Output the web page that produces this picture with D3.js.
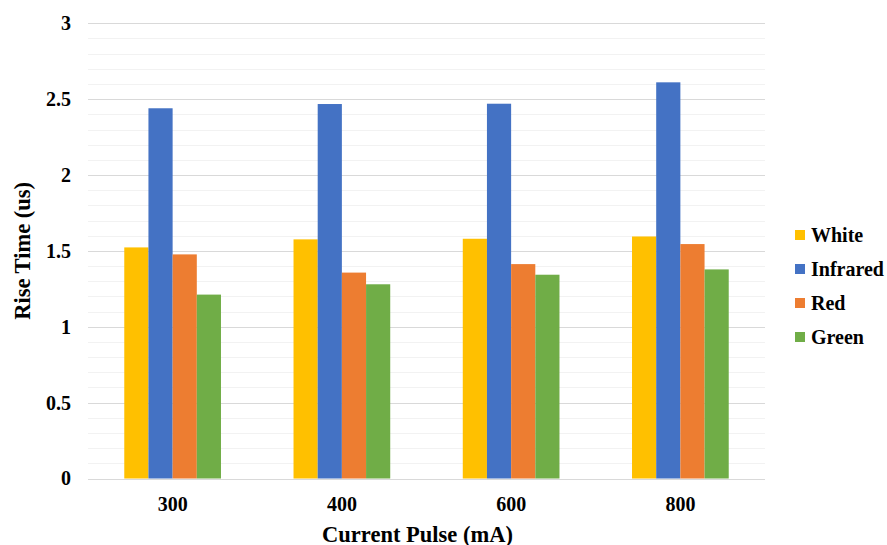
<!DOCTYPE html>
<html><head><meta charset="utf-8">
<script src="https://cdn.jsdelivr.net/npm/d3@7"></script>
<style>body{margin:0;background:#fff}svg{display:block}text{font-family:"Liberation Serif","Times New Roman","DejaVu Serif",serif;font-weight:bold;fill:#000}</style>
</head><body><svg id="c" width="887" height="545"></svg>
<script>
const categories = ["300","400","600","800"];
const seriesNames = ["White","Infrared","Red","Green"];
const seriesColors = ["#FFC000","#4472C4","#ED7D31","#70AD47"];
const white = [1.523,1.576,1.58,1.595];
const infrared = [2.44,2.468,2.47,2.611];
const red = [1.477,1.357,1.413,1.545];
const green = [1.212,1.28,1.343,1.378];
const yTicks = [0,0.5,1,1.5,2,2.5,3];
const values = [white,infrared,red,green];

const svg = d3.select("#c");
const pLeft=88, pRight=765, pTop=23.3, pBottom=478.5;
const y = d3.scaleLinear().domain([0,3]).range([pBottom,pTop]);
const x = d3.scaleBand().domain(categories).range([pLeft,pRight]);
const bw = x.bandwidth()/7;
const xs = d3.scaleBand().domain(seriesNames).range([0,bw*4]);

// minor grid
svg.append("g").selectAll("line").data(d3.range(0,31).map(i=>i/10).filter(v=>Math.round(v*10)%5!==0))
 .join("line").attr("x1",pLeft).attr("x2",pRight).attr("y1",d=>Math.round(y(d))+0.5).attr("y2",d=>Math.round(y(d))+0.5)
 .attr("stroke","#f2f2f2").attr("stroke-width",1);
svg.append("g").selectAll("line").data(yTicks)
 .join("line").attr("x1",pLeft).attr("x2",pRight).attr("y1",d=>Math.round(y(d))+0.5).attr("y2",d=>Math.round(y(d))+0.5)
 .attr("stroke","#d9d9d9").attr("stroke-width",1);

// bars
seriesNames.forEach((s,si)=>{
  svg.append("g").selectAll("rect").data(categories).join("rect")
   .attr("x",(c)=>x(c)+x.bandwidth()/2-bw*2+xs(s))
   .attr("width",bw)
   .attr("y",(c,i)=>y(values[si][i]))
   .attr("height",(c,i)=>y(0)-y(values[si][i]))
   .attr("fill",seriesColors[si]);
});

// y axis labels
const yAxis = d3.axisLeft(y).tickValues(yTicks).tickSize(0).tickPadding(0).tickFormat(d3.format("~g"));
const ga = svg.append("g").attr("transform",`translate(71,0)`).call(yAxis);
ga.attr("font-family",null).attr("font-size",null);
ga.select(".domain").remove();
ga.selectAll("text").attr("font-size",20).attr("fill","#000");

// x axis labels
const xAxis = d3.axisBottom(x).tickSize(0).tickPadding(0);
const gx = svg.append("g").attr("transform",`translate(0,0)`).call(xAxis);
gx.attr("font-family",null).attr("font-size",null);
gx.select(".domain").remove();
gx.selectAll("text").attr("font-size",20).attr("y",510.5).attr("dy",null).attr("fill","#000");

// titles
svg.append("text").attr("x",(pLeft+pRight)/2-9).attr("y",541.5).attr("text-anchor","middle").attr("font-size",22.5).text("Current Pulse (mA)");
svg.append("text").attr("transform",`translate(30,${(pTop+pBottom)/2}) rotate(-90)`).attr("text-anchor","middle").attr("font-size",22.5).text("Rise Time (us)");

// legend
const lg = svg.append("g").selectAll("g").data(seriesNames).join("g")
 .attr("transform",(d,i)=>`translate(795,${235+i*34})`);
lg.append("rect").attr("x",0).attr("y",-5).attr("width",10).attr("height",10).attr("fill",(d,i)=>seriesColors[i]);
lg.append("text").attr("x",16).attr("y",7).attr("font-size",20).text(d=>d);
</script></body></html>
